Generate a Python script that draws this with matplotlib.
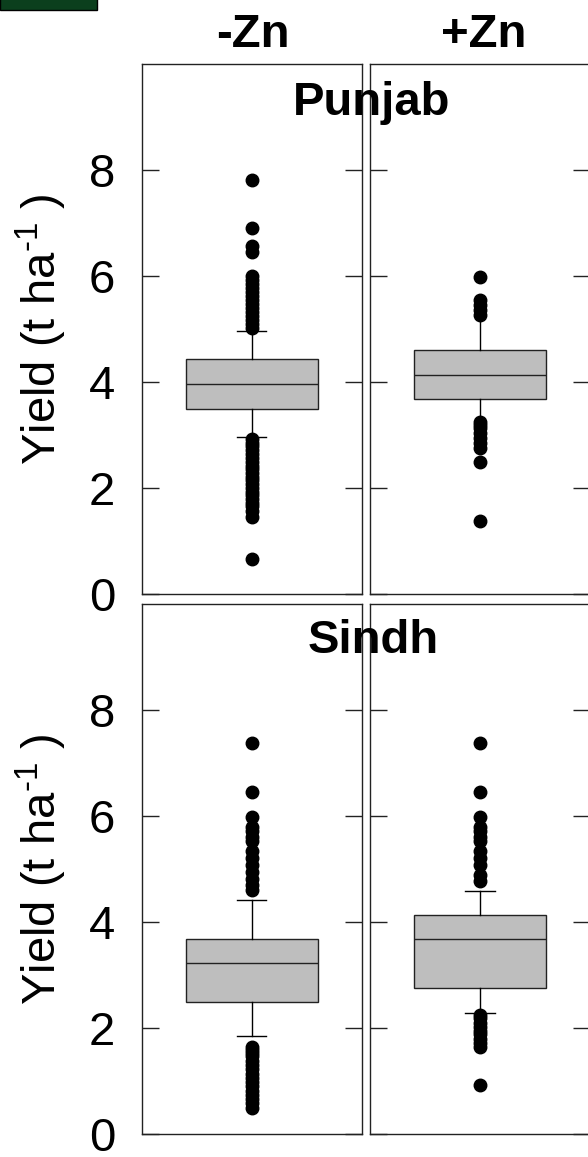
#!/usr/bin/env python3
"""Boxplots of wheat yield with and without Zn, Punjab and Sindh."""
import matplotlib
matplotlib.use("Agg")
import matplotlib.pyplot as plt
from matplotlib.patches import Rectangle

plt.rcParams["font.family"] = ["Liberation Sans", "DejaVu Sans"]
plt.rcParams["mathtext.fontset"] = "custom"
plt.rcParams["mathtext.rm"] = "Liberation Sans"
plt.rcParams["mathtext.it"] = "Liberation Sans"

# ── data (t/ha) ─────────────────────────────────────────────────
treatments = ["-Zn", "+Zn"]
provinces = ["Punjab", "Sindh"]

# order: Punjab -Zn, Punjab +Zn, Sindh -Zn, Sindh +Zn
q1 = [3.50, 3.69, 2.49, 2.76]
med = [3.96, 4.14, 3.22, 3.68]
q3 = [4.43, 4.61, 3.68, 4.14]
whislo = [2.96, 3.24, 1.85, 2.29]
whishi = [4.97, 5.25, 4.42, 4.59]

fliers_punjab_minus = [7.82, 6.91, 6.57, 6.46, 6.00, 5.93, 5.85, 5.78, 5.70,
                       5.62, 5.55, 5.48, 5.40, 5.33, 5.25, 5.18, 5.10, 5.03,
                       2.93, 2.86, 2.79, 2.72, 2.65, 2.58, 2.50, 2.43, 2.36,
                       2.29, 2.22, 2.15, 2.08, 2.01, 1.94, 1.87, 1.80, 1.73,
                       1.66, 1.58, 1.47, 0.66]
fliers_punjab_plus = [5.99, 5.55, 5.46, 5.36, 5.27,
                      3.26, 3.20, 3.14, 3.05, 2.95, 2.86, 2.76, 2.50, 1.39]
fliers_sindh_minus = [7.37, 6.45, 5.99, 5.80, 5.72, 5.60, 5.52, 5.34, 5.20,
                      5.07, 4.95, 4.81, 4.70, 4.61,
                      1.65, 1.58, 1.52, 1.47, 1.38, 1.30, 1.22, 1.14, 1.06,
                      0.98, 0.90, 0.82, 0.74, 0.66, 0.58, 0.50]
fliers_sindh_plus = [7.37, 6.45, 5.99, 5.80, 5.72, 5.60, 5.52, 5.34, 5.20,
                     5.07, 4.88, 4.78,
                     2.25, 2.18, 2.10, 2.02, 1.95, 1.88, 1.80, 1.72, 1.65,
                     0.92]
fliers = [fliers_punjab_minus, fliers_punjab_plus,
          fliers_sindh_minus, fliers_sindh_plus]

yticks = [0, 2, 4, 6, 8]

# ── layout ──────────────────────────────────────────────────────
W, H = 588, 1157
fig = plt.figure(figsize=(W / 100, H / 100), dpi=100)


def px_axes(x0, y0, x1, y1):
    return fig.add_axes([x0 / W, 1 - y1 / H, (x1 - x0) / W, (y1 - y0) / H])


cols = [(141.5, 361.5), (370, 590)]
rows = [(64, 594.5), (604, 1134)]

FS = 34
for r, (y0, y1) in enumerate(rows):
    for c, (x0, x1) in enumerate(cols):
        ax = px_axes(x0, y0, x1, y1)
        i = r * 2 + c
        stats = [dict(med=med[i], q1=q1[i], q3=q3[i], whislo=whislo[i],
                      whishi=whishi[i], fliers=fliers[i])]
        capw = 0.0 if i == 1 else 0.136
        ax.bxp(stats, positions=[0.5], widths=0.6, capwidths=capw,
               patch_artist=True,
               boxprops=dict(facecolor="#bebebe", edgecolor="#222222",
                             linewidth=1.0),
               medianprops=dict(color="#222222", linewidth=1.0),
               whiskerprops=dict(color="black", linewidth=1.0,
                                 linestyle="-"),
               capprops=dict(color="black", linewidth=1.0),
               flierprops=dict(marker="o", markerfacecolor="black",
                               markeredgecolor="black", markersize=9.0))
        ax.set_xlim(0, 1)
        ax.set_ylim(0, 10)
        ax.set_xticks([])
        ax.set_yticks(yticks)
        ax.tick_params(axis="y", direction="in", length=12.5, width=1.0,
                       color="#222222", left=True, right=True,
                       labelsize=FS, pad=19, labelleft=(c == 0))
        for s in ax.spines.values():
            s.set_linewidth(1.0)
            s.set_color("#222222")

    # y label for the row
    yc = (y0 + y1) / 2
    fig.text(41 / W, 1 - yc / H, r"Yield (t ha$^{\text{-1}}$ )",
             rotation=90, ha="center", va="center", fontsize=FS)

# column headers
fig.text(252.5 / W, 1 - 47 / H, treatments[0], ha="center",
         va="baseline", fontsize=FS, fontweight="bold")
fig.text(484 / W, 1 - 47 / H, treatments[1], ha="center",
         va="baseline", fontsize=FS, fontweight="bold")

# province labels straddling the two panels
fig.text(371.5 / W, 1 - 115 / H, provinces[0], ha="center",
         va="baseline", fontsize=FS, fontweight="bold", zorder=5)
fig.text(373.5 / W, 1 - 653 / H, provinces[1], ha="center",
         va="baseline", fontsize=FS, fontweight="bold", zorder=5)

# dark green block in the top-left corner
fig.patches.append(Rectangle((0, 1 - 10 / H), 97 / W, 10 / H + 0.01,
                             transform=fig.transFigure,
                             facecolor="#0b3f1d", edgecolor="black",
                             linewidth=1.0))

fig.savefig("out.png", dpi=100)
